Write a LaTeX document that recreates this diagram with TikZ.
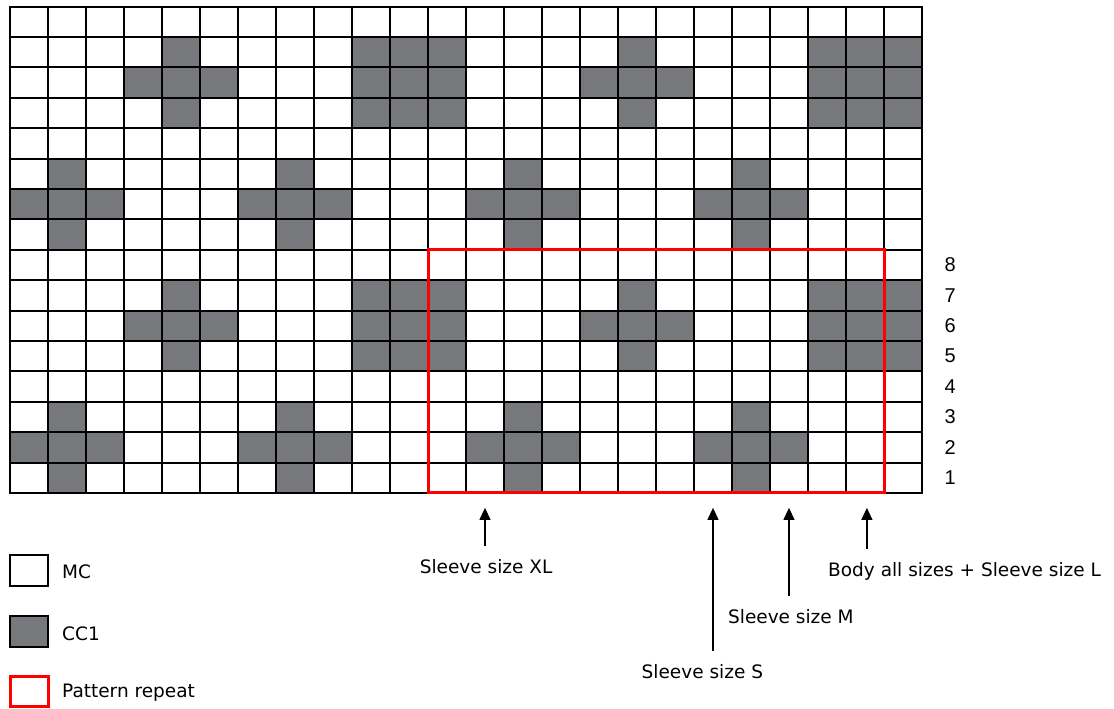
\documentclass[tikz,border=0pt]{standalone}
\usepackage{fontspec}
\setmainfont{DejaVu Sans}
\newfontfamily\numfont{Liberation Sans}
\usetikzlibrary{arrows.meta}

\definecolor{ccone}{RGB}{119,120,124}
\definecolor{repred}{RGB}{255,0,0}

\begin{document}
\begin{tikzpicture}[x=38pt, y=30.4pt,
    sizelbl/.style={font=\fontsize{18.5}{22}\selectfont, anchor=base, inner xsep=0pt, inner ysep=14pt},
    keytxt/.style={font=\fontsize{18.5}{22}\selectfont, anchor=base west, inner sep=0pt},
    rownum/.style={font=\numfont\fontsize{20}{24}\selectfont, inner sep=0pt},
    keybox/.style={draw, line width=2pt, minimum width=38pt, minimum height=30.4pt, inner sep=0pt},
    pointer/.style={-{Triangle[length=12pt,width=11pt]}, line width=1.2pt}]

  \useasboundingbox (-0.2632,-7.105) rectangle (29.053,16.217);

  % CC1 stitches, motif of 8 rows worked twice
  \foreach \r in {0,8} {
    \foreach \c in {1,7,13,19} {
      \fill[ccone] (\c,\r) rectangle ++(1,1);
      \fill[ccone] (\c-1,\r+1) rectangle ++(3,1);
      \fill[ccone] (\c,\r+2) rectangle ++(1,1);
    }
    \foreach \c in {4,16} {
      \fill[ccone] (\c,\r+4) rectangle ++(1,1);
      \fill[ccone] (\c-1,\r+5) rectangle ++(3,1);
      \fill[ccone] (\c,\r+6) rectangle ++(1,1);
    }
    \foreach \c in {9,21}
      \fill[ccone] (\c,\r+4) rectangle ++(3,3);
  }

  % chart grid
  \draw[line width=2pt, line cap=rect] (0,0) grid[step=1] (24,16);

  % pattern repeat
  \draw[repred, line width=3pt] (11,0) rectangle (23,8);

  % row numbers
  \foreach \n in {1,...,8}
    \node[rownum] (row\n) at (24.74,\n-0.5) {\n};

  % size markers
  \coordinate (xltip) at (12.5,-0.49);
  \coordinate (stip) at (18.5,-0.49);
  \coordinate (mtip) at (20.5,-0.49);
  \coordinate (ltip) at (22.55,-0.49);
  \node[sizelbl] (xl) at (12.53,-2.664) {Sleeve size XL};
  \node[sizelbl] (s) at (18.22,-6.118) {Sleeve size S};
  \node[sizelbl] (m) at (20.55,-4.309) {Sleeve size M};
  \node[sizelbl] (l) at (25.12,-2.763) {Body all sizes + Sleeve size L};
  \draw[pointer] (xl.north -| xltip) -- (xltip);
  \draw[pointer] (s.north -| stip) -- (stip);
  \draw[pointer] (m.north -| mtip) -- (mtip);
  \draw[pointer] (l.north -| ltip) -- (ltip);

  % key
  \node[keybox] (mc) at (0.5,-2.55) {};
  \node[keybox, fill=ccone] (cc) at (0.5,-4.56) {};
  \node[keybox, draw=repred, line width=3pt] (rep) at (0.5,-6.53) {};
  \node[keytxt] (mctxt) at (1.368,-2.829) {MC};
  \node[keytxt] (cctxt) at (1.368,-4.836) {CC1};
  \node[keytxt] (reptxt) at (1.368,-6.743) {Pattern repeat};

\end{tikzpicture}
\end{document}
